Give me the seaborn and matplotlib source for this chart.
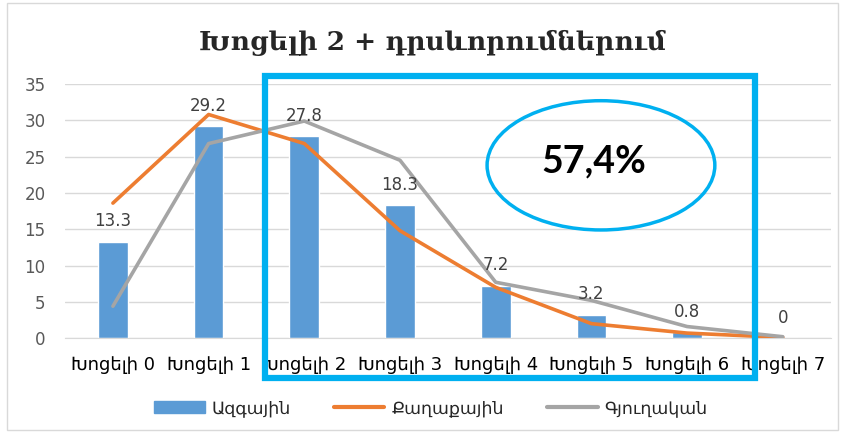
import numpy as np
import pandas as pd
import seaborn as sns
import matplotlib.pyplot as plt
from matplotlib.patches import Rectangle, Ellipse, Patch
from matplotlib.lines import Line2D

# Տվյալներ
categories = ['Խոցելի 0', 'Խոցելի 1', 'Խոցելի 2', 'Խոցելի 3',
              'Խոցելի 4', 'Խոցելի 5', 'Խոցելի 6', 'Խոցելի 7']
azgayin = [13.3, 29.2, 27.8, 18.3, 7.2, 3.2, 0.8, 0]
qaghaqayin = [18.6, 30.8, 26.8, 14.8, 7.0, 2.0, 0.7, 0.1]
gyughakan = [4.4, 26.8, 29.9, 24.5, 7.7, 5.2, 1.6, 0.2]
bar_labels = ['13.3', '29.2', '27.8', '18.3', '7.2', '3.2', '0.8', '0']

df = pd.DataFrame({'cat': categories, 'pos': np.arange(len(categories)),
                   'Ազգային': azgayin, 'Քաղաքային': qaghaqayin,
                   'Գյուղական': gyughakan})

sns.set_style('white')
plt.rcParams['font.family'] = ['DejaVu Sans']

fig = plt.figure(figsize=(8.45, 4.33), dpi=100)
ax = fig.add_axes([0.077, 0.219, 0.906, 0.587])

sns.barplot(data=df, x='pos', y='Ազգային', color='#5b9bd5', width=0.31,
            saturation=1, ax=ax, zorder=2)
sns.lineplot(data=df, x='pos', y='Քաղաքային', color='#ed7d31', linewidth=2.6,
             sort=False, ax=ax, zorder=3)
sns.lineplot(data=df, x='pos', y='Գյուղական', color='#a5a5a5', linewidth=2.6,
             sort=False, ax=ax, zorder=3)

# արժեքների պիտակներ
for i, (v, lab) in enumerate(zip(azgayin, bar_labels)):
    ax.text(i, v + 1.6, lab, ha='center', va='bottom', fontsize=12,
            color='#404040', zorder=4)

ax.set_xlim(-0.5, 7.5)
ax.set_ylim(0, 35)
ax.set_yticks(range(0, 36, 5))
ax.set_xticks(range(len(categories)))
ax.set_xticklabels(categories, fontsize=13, color='#000000')
ax.tick_params(axis='y', labelsize=12, labelcolor='#595959', length=0, pad=14)
ax.tick_params(axis='x', length=0, pad=13)
ax.grid(axis='y', color='#d9d9d9', linewidth=1)
ax.set_axisbelow(True)
ax.set_xlabel('')
ax.set_ylabel('')
for s in ['top', 'right', 'left']:
    ax.spines[s].set_visible(False)
ax.spines['bottom'].set_color('#d9d9d9')

# ընդգծման շրջանակ և օվալ
ax.add_patch(Rectangle((1.59, -5.5), 5.12, 41.6, fill=False, edgecolor='#00b0f0',
                       linewidth=4.5, clip_on=False, zorder=5))
ax.add_patch(Ellipse((5.1, 23.8), 2.38, 17.8, fill=False, edgecolor='#00b0f0',
                     linewidth=2.5, clip_on=False, zorder=5))
ax.text(5.03, 24.3, '57,4%', ha='center', va='center', fontsize=27,
        fontweight='bold', family='Lato', color='#000000', zorder=6)

fig.suptitle('Խոցելի 2 + դրսևորումներում', x=0.512, y=0.93, fontsize=19,
             fontweight='bold', family='DejaVu Serif')

handles = [Patch(color='#5b9bd5'),
           Line2D([0], [0], color='#ed7d31', linewidth=3),
           Line2D([0], [0], color='#a5a5a5', linewidth=3)]
fig.legend(handles, ['Ազգային', 'Քաղաքային', 'Գյուղական'], loc='center',
           bbox_to_anchor=(0.51, 0.058), ncol=3, frameon=False, fontsize=12.5,
           handlelength=2.9, columnspacing=2.5, handletextpad=0.4)

fig.patches.append(Rectangle((0.008, 0.008), 0.984, 0.984, fill=False,
                             edgecolor='#d9d9d9', linewidth=1,
                             transform=fig.transFigure, figure=fig))

fig.savefig('out.png', dpi=100)
